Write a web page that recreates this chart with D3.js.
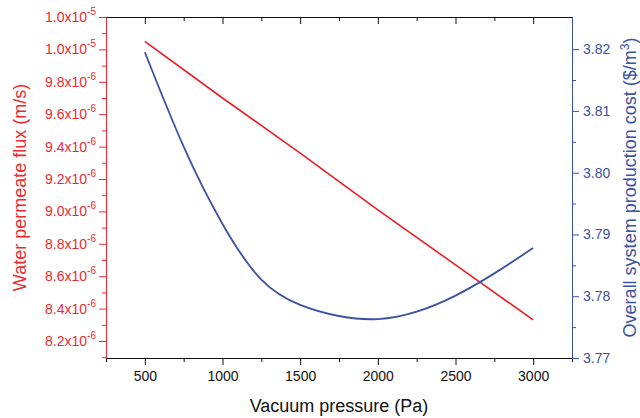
<!DOCTYPE html>
<html>
<head>
<meta charset="utf-8">
<script src="https://cdn.jsdelivr.net/npm/d3@7"></script>
<style>
  body { margin: 0; background: #fff; }
  text { font-family: "Liberation Sans", Arial, sans-serif; }
</style>
</head>
<body>
<svg id="chart"></svg>
<script>
// Vacuum pressure (Pa)
const pressure = [500, 1000, 1500, 2000, 2500, 3000];
// Water permeate flux (x10^-6 m/s)
const flux = [10.05, 9.70, 9.36, 9.01, 8.67, 8.33];

// Overall system production cost ($/m3), read every 250 Pa
const costPressure = [500, 750, 1000, 1250, 1500, 1750, 2000, 2250, 2500, 2750, 3000];
const cost = [3.8195, 3.8042, 3.7917, 3.7827, 3.7786, 3.7768, 3.7763, 3.7775, 3.7801, 3.7837, 3.7878];

const xTicks = [500, 1000, 1500, 2000, 2500, 3000];
const xMinor = [250, 750, 1250, 1750, 2250, 2750, 3250];
const fluxTicks = [8.2, 8.4, 8.6, 8.8, 9.0, 9.2, 9.4, 9.6, 9.8, 10.0, 10.2];
const fluxMinor = [8.1, 8.3, 8.5, 8.7, 8.9, 9.1, 9.3, 9.5, 9.7, 9.9, 10.1];
const costTicks = [3.77, 3.78, 3.79, 3.80, 3.81, 3.82];
const costMinor = [3.775, 3.785, 3.795, 3.805, 3.815];

const width = 640;
const height = 418;
const red = "#ed2a30";
const blue = "#3c52a3";
const plotLeft = 106, plotRight = 572, plotTop = 17, plotBottom = 358;

const svg = d3.select("#chart").attr("width", width).attr("height", height);

const x = d3.scaleLinear().domain([250, 3250]).range([plotLeft, plotRight]);
const yFlux = d3.scaleLinear().domain([8.095, 10.2]).range([plotBottom, plotTop]);
const yCost = d3.scaleLinear().domain([3.77, 3.8252]).range([plotBottom, plotTop]);

// top axis (inward ticks, no labels)
svg.append("g")
  .attr("transform", `translate(0,${plotTop})`)
  .call(d3.axisBottom(x).tickValues(xTicks).tickSize(7).tickFormat("").tickSizeOuter(0))
  .call((g) => g.selectAll("path,line").attr("stroke", "#111"));
svg.append("g")
  .attr("transform", `translate(0,${plotTop})`)
  .call(d3.axisBottom(x).tickValues(xMinor).tickSize(4).tickFormat("").tickSizeOuter(0))
  .call((g) => g.select(".domain").remove())
  .call((g) => g.selectAll("line").attr("stroke", "#111"));

// bottom axis
const xAxis = svg.append("g")
  .attr("transform", `translate(0,${plotBottom})`)
  .call(d3.axisBottom(x).tickValues(xTicks).tickSize(7).tickPadding(6).tickSizeOuter(0).tickFormat(d3.format("d")));
xAxis.selectAll("path,line").attr("stroke", "#111");
xAxis.selectAll("text").attr("fill", "#111").style("font-size", "14px");
svg.append("g")
  .attr("transform", `translate(0,${plotBottom})`)
  .call(d3.axisBottom(x).tickValues(xMinor).tickSize(4).tickFormat("").tickSizeOuter(0))
  .call((g) => g.select(".domain").remove())
  .call((g) => g.selectAll("line").attr("stroke", "#111"));

// left axis (flux)
const fluxAxis = svg.append("g")
  .attr("transform", `translate(${plotLeft},0)`)
  .call(d3.axisLeft(yFlux).tickValues(fluxTicks).tickSize(7).tickSizeOuter(0).tickFormat(""));
fluxAxis.selectAll("path,line").attr("stroke", red);
svg.append("g")
  .attr("transform", `translate(${plotLeft},0)`)
  .call(d3.axisLeft(yFlux).tickValues(fluxMinor).tickSize(4).tickFormat("").tickSizeOuter(0))
  .call((g) => g.select(".domain").remove())
  .call((g) => g.selectAll("line").attr("stroke", red));

const fluxLabels = svg.append("g")
  .selectAll("text")
  .data(fluxTicks)
  .enter()
  .append("text")
  .attr("x", plotLeft - 10)
  .attr("y", (d) => yFlux(d) + 5)
  .attr("text-anchor", "end")
  .attr("fill", red)
  .style("font-size", "14px");
fluxLabels.append("tspan")
  .text((d) => (d >= 10 ? (d / 10).toFixed(1) : d.toFixed(1)) + "x10");
fluxLabels.append("tspan")
  .attr("dy", -7)
  .style("font-size", "10px")
  .text((d) => (d >= 10 ? "-5" : "-6"));

// right axis (cost)
const costAxis = svg.append("g")
  .attr("transform", `translate(${plotRight},0)`)
  .call(d3.axisRight(yCost).tickValues(costTicks).tickSize(7).tickPadding(4).tickSizeOuter(0).tickFormat(d3.format(".2f")));
costAxis.selectAll("path,line").attr("stroke", blue);
costAxis.selectAll("text").attr("fill", blue).style("font-size", "14px");
svg.append("g")
  .attr("transform", `translate(${plotRight},0)`)
  .call(d3.axisRight(yCost).tickValues(costMinor).tickSize(4).tickFormat("").tickSizeOuter(0))
  .call((g) => g.select(".domain").remove())
  .call((g) => g.selectAll("line").attr("stroke", blue));

// lines
svg.append("path")
  .datum(pressure.map((p, i) => [p, flux[i]]))
  .attr("fill", "none")
  .attr("stroke", "#ee1c25")
  .attr("stroke-width", 1.6)
  .attr("d", d3.line().x((d) => x(d[0])).y((d) => yFlux(d[1])));

svg.append("path")
  .datum(costPressure.map((p, i) => [p, cost[i]]))
  .attr("fill", "none")
  .attr("stroke", blue)
  .attr("stroke-width", 1.8)
  .attr("d", d3.line().curve(d3.curveNatural).x((d) => x(d[0])).y((d) => yCost(d[1])));

// axis titles
svg.append("text")
  .attr("x", (plotLeft + plotRight) / 2)
  .attr("y", 412)
  .attr("text-anchor", "middle")
  .attr("fill", "#111")
  .style("font-size", "18px")
  .text("Vacuum pressure (Pa)");

svg.append("text")
  .attr("transform", `translate(26,${(plotTop + plotBottom) / 2}) rotate(-90)`)
  .attr("text-anchor", "middle")
  .attr("fill", red)
  .style("font-size", "18px")
  .text("Water permeate flux (m/s)");

const rightTitle = svg.append("text")
  .attr("transform", `translate(636,${(plotTop + plotBottom) / 2}) rotate(-90)`)
  .attr("text-anchor", "middle")
  .attr("fill", blue)
  .style("font-size", "18px");
rightTitle.append("tspan").text("Overall system production cost ($/m");
rightTitle.append("tspan").attr("dy", -7).style("font-size", "12px").text("3");
rightTitle.append("tspan").attr("dy", 7).text(")");
</script>
</body>
</html>
